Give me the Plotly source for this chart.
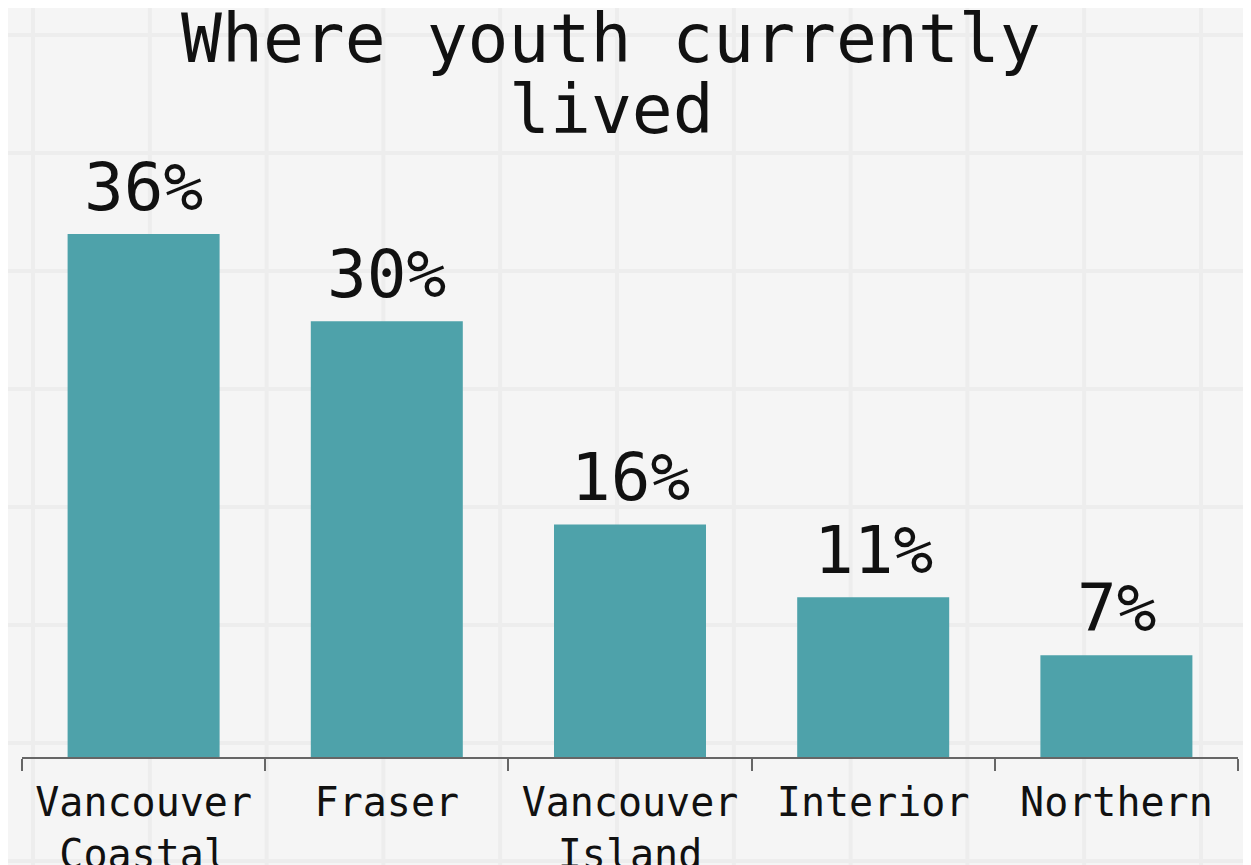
import plotly.graph_objects as go

regions = ["Vancouver<br>Coastal", "Fraser", "Vancouver<br>Island", "Interior", "Northern"]
share = [36, 30, 16, 11, 7]
title_lines = ["Where youth currently", "lived"]

# the page puts the figure 8px in from the top-left corner of the window
OFF = 8
W, H = 1251, 865
ML, MR, MT, MB = 14, 21, 168, 116
pw, ph = W - ML - MR, H - MT - MB
mono = 'DejaVu Sans Mono'


# helpers: window pixel -> paper fraction
def py2paper(y):
    return (H - MB - (y - OFF)) / ph


def px2paper(x):
    return ((x - OFF) - ML) / pw


fig = go.Figure()
fig.add_trace(go.Bar(x=regions, y=share,
                     marker_color='#4ea2aa', marker_line_width=0,
                     cliponaxis=False, hoverinfo='skip'))

# value labels above the bars
annotations = []
for r, v in zip(regions, share):
    annotations.append(dict(x=r, y=v, xref='x', yref='y', text=f'{v}%', showarrow=False,
                            yanchor='middle', yshift=47,
                            font=dict(family=mono, size=66, color='#111111')))

# two-line title
for txt, ypix in zip(title_lines, [38, 110]):
    annotations.append(dict(x=px2paper(611), y=py2paper(ypix), xref='paper', yref='paper',
                            text=txt, showarrow=False, xanchor='center', yanchor='middle',
                            font=dict(family=mono, size=68, color='#111111')))

# faint paper grid texture in the background
shapes = []
for xv in [33 + 116.8 * i for i in range(11)]:
    shapes.append(dict(type='line', xref='paper', yref='paper',
                       x0=px2paper(xv), x1=px2paper(xv), y0=py2paper(H + OFF), y1=py2paper(0),
                       line=dict(color='#ededed', width=4), layer='below'))
for yv in [35 + 118 * i for i in range(8)]:
    shapes.append(dict(type='line', xref='paper', yref='paper',
                       x0=px2paper(0), x1=px2paper(W + OFF), y0=py2paper(yv), y1=py2paper(yv),
                       line=dict(color='#ededed', width=4), layer='below'))

fig.update_layout(
    width=W, height=H,
    margin=dict(l=ML, r=MR, t=MT, b=MB, autoexpand=False),
    paper_bgcolor='#f5f5f5', plot_bgcolor='rgba(0,0,0,0)',
    bargap=0.375, showlegend=False, shapes=shapes, annotations=annotations,
    font=dict(family=mono, color='#111111'),
)
fig.update_xaxes(showline=True, linecolor='#666666', linewidth=2,
                 ticks='outside', tickson='boundaries', ticklen=12, tickwidth=2,
                 tickcolor='#666666', showgrid=False, automargin=False,
                 ticklabelstandoff=9,
                 tickfont=dict(family=mono, size=40, color='#111111'))
fig.update_yaxes(range=[0, 40], visible=False, showgrid=False, zeroline=False,
                 automargin=False)

fig.write_html("out.html")
